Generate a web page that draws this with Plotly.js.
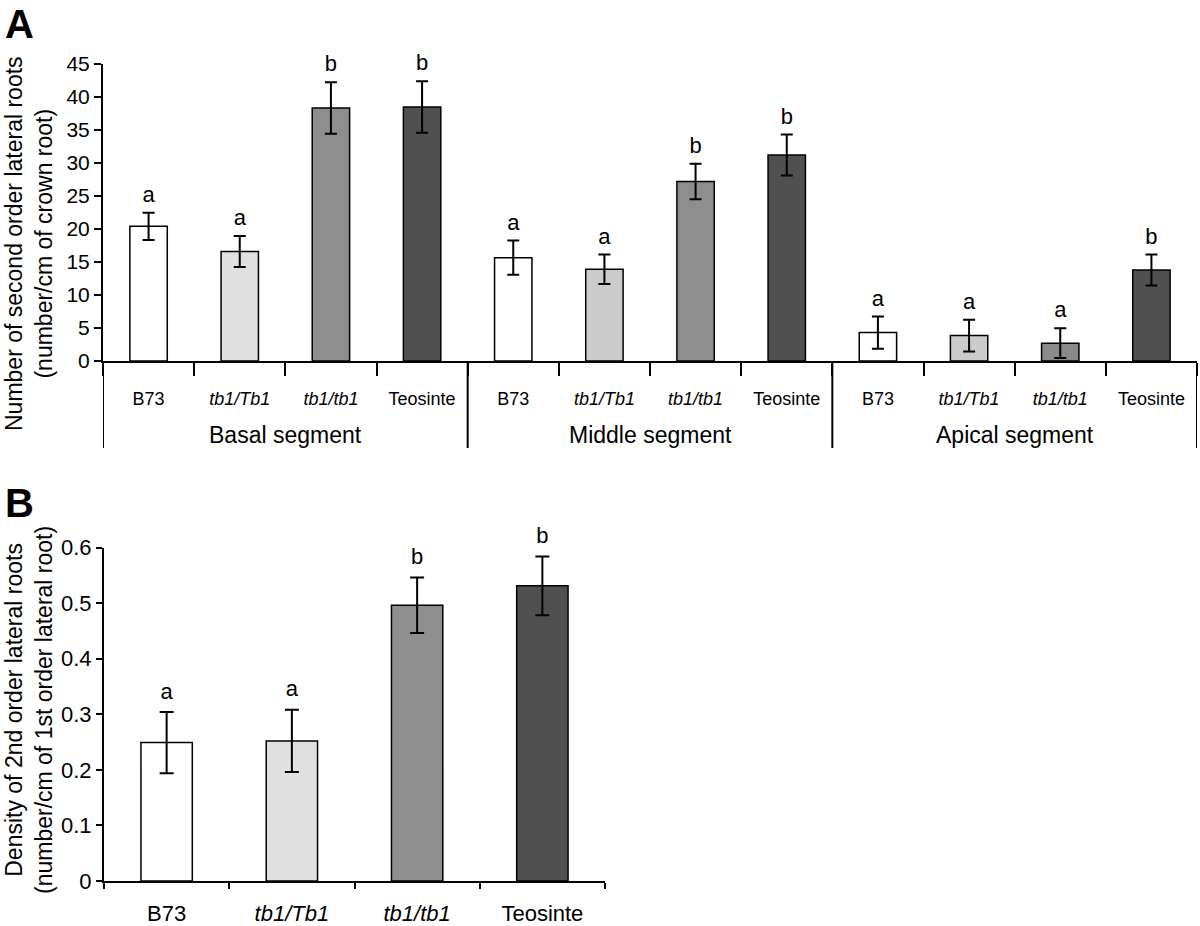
<!DOCTYPE html>
<html>
<head>
<meta charset="utf-8">
<script src="https://cdn.plot.ly/plotly-3.0.1.min.js"></script>
<style>html,body{margin:0;padding:0;background:#fff;}</style>
</head>
<body>
<div id="chart" style="width:1200px;height:926px;"></div>
<script>
// ---------- data ----------
const segments = ['Basal segment', 'Middle segment', 'Apical segment'];
const genotypes = ['B73', 'tb1/Tb1', 'tb1/tb1', 'Teosinte'];
const italicGenotypes = ['tb1/Tb1', 'tb1/tb1'];

const basalMeans   = [20.4, 16.6, 38.35, 38.5];
const basalErrors  = [2.05, 2.35, 3.9, 3.9];
const middleMeans  = [15.65, 13.9, 27.2, 31.2];
const middleErrors = [2.6, 2.25, 2.7, 3.1];
const apicalMeans  = [4.3, 3.85, 2.7, 13.8];
const apicalErrors = [2.45, 2.4, 2.25, 2.35];
const basalLetters  = ['a', 'a', 'b', 'b'];
const middleLetters = ['a', 'a', 'b', 'b'];
const apicalLetters = ['a', 'a', 'a', 'b'];

const densityMeans   = [0.249, 0.252, 0.496, 0.531];
const densityErrors  = [0.055, 0.056, 0.05, 0.053];
const densityLetters = ['a', 'a', 'b', 'b'];

const yTicksA = [0, 5, 10, 15, 20, 25, 30, 35, 40, 45];
const yTicksB = [0, 0.1, 0.2, 0.3, 0.4, 0.5, 0.6];

const colorsBasal   = ['#ffffff', '#e0e0e0', '#8e8e8e', '#505050'];
const colorsMiddle  = ['#ffffff', '#cbcbcb', '#8e8e8e', '#505050'];
const colorsApical  = ['#ffffff', '#cbcbcb', '#8a8a8a', '#505050'];
const colorsDensity = ['#ffffff', '#e0e0e0', '#8e8e8e', '#505050'];

// ---------- build ----------
const FONT = 'Liberation Sans, Arial, Helvetica, sans-serif';
const W = 1200, H = 926;
const genoLabel = g => italicGenotypes.includes(g) ? '<i>' + g + '</i>' : g;

const segMeans = [basalMeans, middleMeans, apicalMeans];
const segErrors = [basalErrors, middleErrors, apicalErrors];
const segLetters = [basalLetters, middleLetters, apicalLetters];
const segColors = [colorsBasal, colorsMiddle, colorsApical];
const nG = genotypes.length;

const xA = [], yA = [], eA = [], lA = [], cA = [], topA = [], tickTextA = [];
segments.forEach((s, si) => {
  genotypes.forEach((g, gi) => {
    xA.push(si * nG + gi);
    tickTextA.push(genoLabel(g));
    yA.push(segMeans[si][gi]);
    eA.push(segErrors[si][gi]);
    lA.push(segLetters[si][gi]);
    cA.push(segColors[si][gi]);
    topA.push(segMeans[si][gi] + segErrors[si][gi]);
  });
});
// category boundaries (minor ticks) and segment boundaries (dividers)
const boundariesA = [];
for (let i = 0; i <= xA.length; i++) boundariesA.push(i - 0.5);
const dividersA = segments.map((s, si) => si * nG - 0.5).concat([segments.length * nG - 0.5]);
const segCenters = segments.map((s, si) => si * nG + (nG - 1) / 2);

const xB = genotypes.map(genoLabel);
const topB = densityMeans.map((m, i) => m + densityErrors[i]);

const traces = [
  {
    type: 'bar', x: xA, y: yA, xaxis: 'x', yaxis: 'y',
    marker: {color: cA, line: {color: '#000', width: 1.5}},
    error_y: {type: 'data', array: eA, visible: true, color: '#000', thickness: 2, width: 6},
    hoverinfo: 'y'
  },
  {
    type: 'scatter', mode: 'markers+text', x: xA, y: topA, xaxis: 'x', yaxis: 'y',
    text: lA, textposition: 'top center',
    textfont: {family: FONT, size: 22, color: '#000'},
    marker: {size: 7, opacity: 0}, hoverinfo: 'skip', cliponaxis: false
  },
  {
    type: 'bar', x: xB, y: densityMeans, xaxis: 'x2', yaxis: 'y2',
    marker: {color: colorsDensity, line: {color: '#000', width: 1.5}},
    error_y: {type: 'data', array: densityErrors, visible: true, color: '#000', thickness: 2, width: 7},
    hoverinfo: 'y'
  },
  {
    type: 'scatter', mode: 'markers+text', x: xB, y: topB, xaxis: 'x2', yaxis: 'y2',
    text: densityLetters, textposition: 'top center',
    textfont: {family: FONT, size: 22, color: '#000'},
    marker: {size: 11, opacity: 0}, hoverinfo: 'skip', cliponaxis: false
  }
];

const axisCommon = {
  showline: true, linecolor: '#000', linewidth: 2,
  ticks: 'outside', tickcolor: '#000', tickwidth: 2,
  showgrid: false, zeroline: false, fixedrange: true
};

const yDomA = [(H - 361) / H, (H - 64) / H];
const dividerBottom = (H - 448) / H;

const shapes = dividersA.map(x => ({
  type: 'line', xref: 'x', yref: 'paper',
  x0: x, x1: x, y0: yDomA[0], y1: dividerBottom,
  line: {color: '#000', width: 2}
}));

const annotations = [
  {xref: 'paper', yref: 'paper', x: 3 / W, y: 1, xanchor: 'left', yanchor: 'top',
   text: '<b>A</b>', showarrow: false, font: {family: FONT, size: 40, color: '#000'}},
  {xref: 'paper', yref: 'paper', x: 3 / W, y: (H - 479) / H, xanchor: 'left', yanchor: 'top',
   text: '<b>B</b>', showarrow: false, font: {family: FONT, size: 40, color: '#000'}},
  {xref: 'paper', yref: 'paper', x: 29 / W, y: (H - 244) / H, xanchor: 'center', yanchor: 'middle',
   textangle: -90, showarrow: false, borderpad: 0,
   text: 'Number of second order lateral roots<br>(number/cm of crown root)',
   font: {family: FONT, size: 23, color: '#000'}},
  {xref: 'paper', yref: 'paper', x: 29 / W, y: (H - 710) / H, xanchor: 'center', yanchor: 'middle',
   textangle: -90, showarrow: false, borderpad: 0,
   text: 'Density of 2nd order lateral roots<br>(number/cm of 1st order lateral root)',
   font: {family: FONT, size: 23, color: '#000'}}
].concat(segments.map((s, si) => ({
  xref: 'x', yref: 'paper', x: segCenters[si], y: (H - 435) / H,
  xanchor: 'center', yanchor: 'middle', showarrow: false,
  text: s, font: {family: FONT, size: 23, color: '#000'}
})));

const layout = {
  width: W, height: H,
  margin: {l: 0, r: 0, t: 0, b: 0},
  paper_bgcolor: '#fff', plot_bgcolor: '#fff',
  showlegend: false,
  bargap: 0.59,
  font: {family: FONT, color: '#000'},
  xaxis: Object.assign({}, axisCommon, {
    type: 'linear', anchor: 'y',
    domain: [103 / W, 1197 / W], range: [-0.5, xA.length - 0.5],
    tickmode: 'array', tickvals: xA, ticktext: tickTextA,
    ticks: '', ticklabelstandoff: 20,
    minor: {tickmode: 'array', tickvals: boundariesA, ticks: 'outside', ticklen: 13,
            tickwidth: 2, tickcolor: '#000', showgrid: false},
    tickfont: {family: FONT, size: 18, color: '#000'}
  }),
  yaxis: Object.assign({}, axisCommon, {
    anchor: 'x',
    domain: yDomA, range: [0, 45],
    tickmode: 'array', tickvals: yTicksA, ticklen: 7,
    tickfont: {family: FONT, size: 21, color: '#000'}
  }),
  xaxis2: Object.assign({}, axisCommon, {
    type: 'category', anchor: 'y2',
    domain: [104 / W, 605 / W], range: [-0.5, 3.5],
    tickson: 'boundaries', ticklen: 6,
    ticklabelstandoff: 12,
    tickfont: {family: FONT, size: 22, color: '#000'}
  }),
  yaxis2: Object.assign({}, axisCommon, {
    anchor: 'x2',
    domain: [(H - 881) / H, (H - 547.5) / H], range: [0, 0.6],
    tickmode: 'array', tickvals: yTicksB, ticklen: 6,
    tickfont: {family: FONT, size: 22, color: '#000'}
  }),
  shapes: shapes,
  annotations: annotations
};

Plotly.newPlot('chart', traces, layout, {displayModeBar: false, staticPlot: true});
</script>
</body>
</html>
